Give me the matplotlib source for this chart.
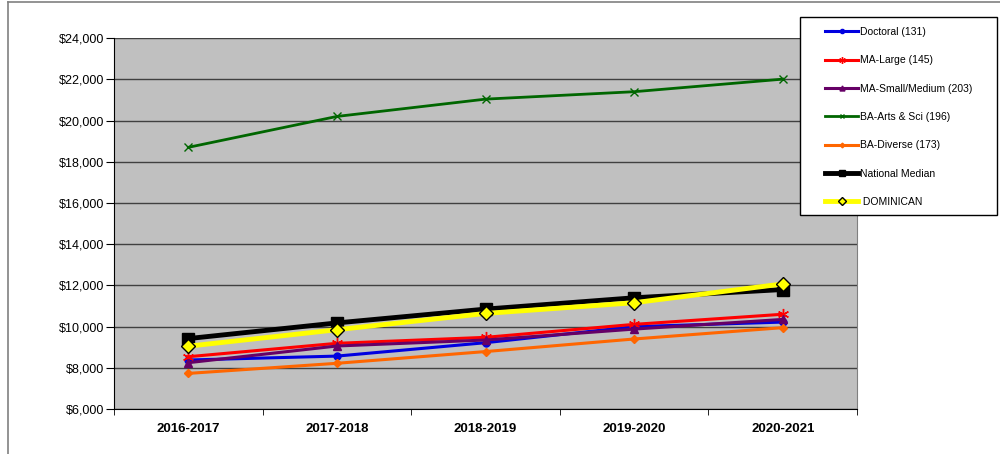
import numpy as np
import matplotlib.pyplot as plt
from matplotlib.ticker import FuncFormatter, FixedLocator
from matplotlib.lines import Line2D
from matplotlib.patches import Rectangle

plt.rcParams['font.family'] = ['Liberation Sans', 'DejaVu Sans']

years = ['2016-2017', '2017-2018', '2018-2019', '2019-2020', '2020-2021']
doctoral = [8380, 8570, 9220, 10000, 10220]
ma_large = [8540, 9190, 9480, 10110, 10600]
ma_small = [8250, 9060, 9350, 9880, 10350]
ba_arts = [18700, 20200, 21040, 21400, 22010]
ba_diverse = [7730, 8220, 8790, 9400, 9950]
national = [9420, 10180, 10850, 11400, 11800]
dominican = [9050, 9850, 10640, 11160, 12070]

fig = plt.figure(figsize=(10, 4.54), dpi=100)
ax = fig.add_axes([0.114, 0.099, 0.743, 0.817])
ax.set_facecolor('#C0C0C0')

x = np.arange(len(years))
ax.plot(x, doctoral, color='#0000E0', lw=2.2, marker='o', ms=5, label='Doctoral (131)')
ax.plot(x, ma_large, color='#FF0000', lw=2.2, marker=(6, 2, 0), ms=8, mew=1, label='MA-Large (145)')
ax.plot(x, ma_small, color='#660066', lw=2.2, marker='^', ms=6, label='MA-Small/Medium (203)')
ax.plot(x, ba_arts, color='#006600', lw=2.0, marker='x', ms=6, mew=1, label='BA-Arts & Sci (196)')
ax.plot(x, ba_diverse, color='#FF6600', lw=2.2, marker='D', ms=4, label='BA-Diverse (173)')
ax.plot(x, national, color='black', lw=3.5, marker='s', ms=8, label='National Median')
ax.plot(x, dominican, color='#FFFF00', lw=3.5, marker='D', ms=7, mec='black', mew=1, label=' DOMINICAN')

ax.set_xlim(-0.5, len(years) - 0.5)
ax.set_ylim(6000, 24000)
ax.set_yticks(np.arange(6000, 24001, 2000))
ax.yaxis.set_major_formatter(FuncFormatter(lambda v, p: '${:,.0f}'.format(v)))
ax.set_xticks(x)
ax.set_xticklabels(years, fontweight='bold', fontsize=9.5)
ax.xaxis.set_minor_locator(FixedLocator(np.arange(-0.5, len(years), 1.0)))
ax.tick_params(axis='x', which='major', length=0, pad=10)
ax.tick_params(axis='x', which='minor', length=4, direction='out')
ax.tick_params(axis='y', labelsize=9, length=6, direction='out', pad=1)
ax.grid(axis='y', color='#404040', lw=1)
ax.set_axisbelow(True)
ax.spines['top'].set_visible(False)
ax.spines['right'].set_color('#808080')
ax.spines['left'].set_color('black')
ax.spines['bottom'].set_color('black')

# legend box drawn separately so its size matches
fig.add_artist(Rectangle((0.800, 1 - 215 / 454), 0.197, 198 / 454, transform=fig.transFigure,
                         facecolor='white', edgecolor='black', lw=1, zorder=4))
leg = fig.legend(loc='upper left', bbox_to_anchor=(0.825, 1 - 27 / 454), bbox_transform=fig.transFigure,
                 fontsize=7.5, frameon=False, labelspacing=1.76, handlelength=3.2,
                 handletextpad=0.2, borderpad=0, borderaxespad=0, markerscale=0.6)
leg.set_zorder(5)

# outer chart border
fig.add_artist(Line2D([0.008, 0.008], [0, 0.995], color='#808080', lw=1.2, transform=fig.transFigure))
fig.add_artist(Line2D([0.008, 1.0], [0.995, 0.995], color='#808080', lw=1.2, transform=fig.transFigure))

plt.savefig('out.png', dpi=100)
